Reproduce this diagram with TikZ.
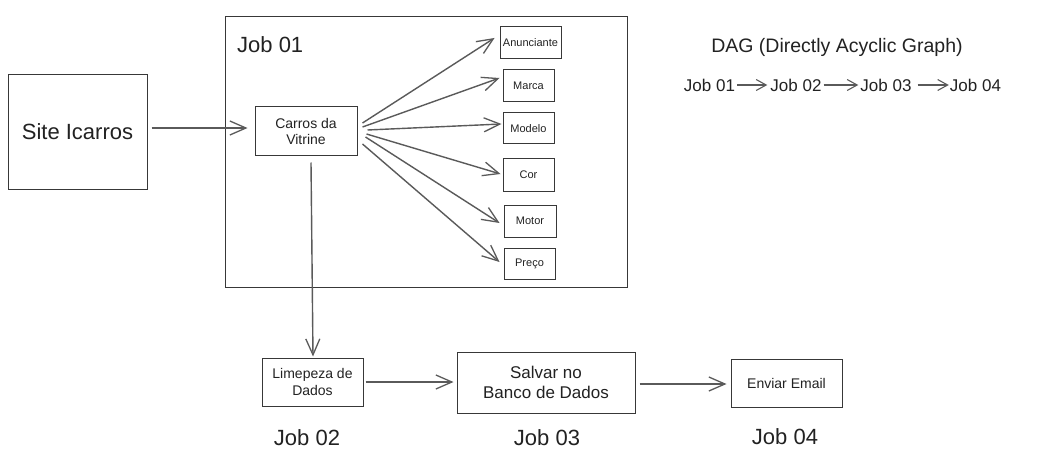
\documentclass[tikz,border=0pt]{standalone}
\usepackage{fontspec}
\setmainfont{Liberation Sans}
\usetikzlibrary{arrows.meta}
\definecolor{boxc}{HTML}{383838}
\definecolor{arrc}{HTML}{5A5A5A}
\definecolor{txt}{HTML}{222222}
\newcommand{\myfs}[2]{\fontsize{#1}{#2}\selectfont}
\tikzset{
  box/.style={draw=boxc, line width=1pt, inner sep=0pt, align=center, text=txt},
  lbl/.style={inner sep=0pt, text=txt},
  arr/.style={draw=arrc, line width=1.4pt, -{Straight Barb[length=16pt,width=14pt,line width=1.3pt]}},
  darr/.style={draw=arrc, line width=1.2pt, -{Straight Barb[length=10pt,width=11pt,line width=1.1pt]}}
}
\begin{document}
\begin{tikzpicture}[x=1pt,y=-1pt]
\useasboundingbox[fill=white] (0,0) rectangle (1044,468);

% left source box
\node[box, minimum width=139pt, minimum height=114pt, font=\myfs{22}{26}] (site) at (77.5,132) {Site Icarros};

% Job 01 container
\node[box, minimum width=402pt, minimum height=270pt] (job1) at (426,152) {};
\node[lbl, font=\myfs{22}{26}, anchor=base west] (job1l) at (237,53) {Job 01};

% Carros da Vitrine
\node[box, minimum width=102pt, minimum height=49pt, font=\myfs{14}{16}] (carros) at (306,131.5) {Carros da\\Vitrine};

% attribute boxes
\node[box, minimum width=61pt, minimum height=32pt, font=\myfs{11}{13}] (anun) at (530.5,43) {Anunciante};
\node[box, minimum width=51pt, minimum height=32pt, font=\myfs{11}{13}] (marca) at (528.5,86) {Marca};
\node[box, minimum width=51pt, minimum height=31pt, font=\myfs{11}{13}] (modelo) at (528.5,128.5) {Modelo};
\node[box, minimum width=51pt, minimum height=32pt, font=\myfs{11}{13}] (cor) at (528.5,175) {Cor};
\node[box, minimum width=52pt, minimum height=32pt, font=\myfs{11}{13}] (motor) at (530,221) {Motor};
\node[box, minimum width=51pt, minimum height=31pt, font=\myfs{11}{13}] (preco) at (529.5,263.5) {Preço};

% bottom row
\node[box, minimum width=101pt, minimum height=48pt, font=\myfs{14}{17}] (limp) at (312.5,382) {Limepeza de\\Dados};
\node[box, minimum width=178pt, minimum height=61pt, font=\myfs{17}{20.5}] (salv) at (546,382.5) {Salvar no\\Banco de Dados};
\node[box, minimum width=111pt, minimum height=48pt, font=\myfs{14}{17}] (env) at (786.5,383) {Enviar Email};

\node[lbl, font=\myfs{22}{26}] (j2) at (307,438) {Job 02};
\node[lbl, font=\myfs{22}{26}] (j3) at (547,438) {Job 03};
\node[lbl, font=\myfs{22}{26}] (j4) at (785,437) {Job 04};

% DAG legend
\node[lbl, font=\myfs{19.5}{23}] (dag) at (837,47) {DAG (Directly Acyclic Graph)};
\node[lbl, font=\myfs{17}{20}] (d1) at (709.5,85) {Job 01};
\node[lbl, font=\myfs{17}{20}] (d2) at (796,85) {Job 02};
\node[lbl, font=\myfs{17}{20}] (d3) at (886,85) {Job 03};
\node[lbl, font=\myfs{17}{20}] (d4) at (975.5,85) {Job 04};
\draw[darr, shorten <=2pt, shorten >=3pt] (d1.east) -- (d2.west);
\draw[darr, shorten <=2pt, shorten >=2pt] (d2.east) -- (d3.west);
\draw[darr, shorten <=6pt, shorten >=1pt] (d3.east) -- (d4.west);

% connectors
\draw[arr] ([xshift=4pt,yshift=4pt]site.east) -- ([xshift=-7pt,yshift=3.5pt]carros.west);
\draw[arr] ([xshift=5pt,yshift=8.5pt]carros.east) -- ([xshift=-5pt,yshift=5pt]anun.west);
\draw[arr] ([xshift=5pt,yshift=4.5pt]carros.east) -- ([xshift=-3pt,yshift=8pt]marca.west);
\draw[arr] ([xshift=10pt,yshift=1.5pt]carros.east) -- ([xshift=-1pt,yshift=4.5pt]modelo.west);
\draw[arr] ([xshift=9pt,yshift=-2.5pt]carros.east) -- ([xshift=-2pt,yshift=1pt]cor.west);
\draw[arr] ([xshift=8pt,yshift=-5.5pt]carros.east) -- ([xshift=-4pt,yshift=-2pt]motor.west);
\draw[arr] ([xshift=5pt,yshift=-12.5pt]carros.east) -- ([xshift=-4pt,yshift=1.5pt]preco.west);
\draw[arr] ([xshift=5pt,yshift=-6pt]carros.south) -- ([xshift=0.5pt,yshift=1pt]limp.north);
\draw[arr] ([xshift=2pt]limp.east) -- ([xshift=-3pt,yshift=0.5pt]salv.west);
\draw[arr] ([xshift=4pt,yshift=-1.5pt]salv.east) -- ([xshift=-4pt,yshift=-1pt]env.west);
\end{tikzpicture}
\end{document}
